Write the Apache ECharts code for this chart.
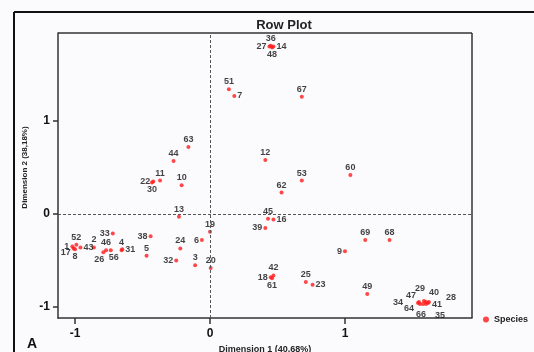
<!DOCTYPE html>
<html>
<head>
<meta charset="utf-8">
<script src="https://cdn.jsdelivr.net/npm/echarts@6/dist/echarts.min.js"></script>
<style>
  html, body { margin: 0; padding: 0; background: #fbfbfe; }
  #chart { width: 534px; height: 352px; }
</style>
</head>
<body>
<div id="chart"></div>
<script>
// species labels, coordinates on dimension 1 / dimension 2
const species = ["36","27","14","48","51","7","67","63","44","12","53","60","62",
  "22","30","11","10","13","19","6","33","38","24","2","52","1","17","8","43",
  "46","26","56","4","31","5","32","3","20","45","16","39","9","69","68",
  "42","18","61","25","23","49","29","40","47","41","34","64","66","28","35"];
const dim1 = [0.45,0.44,0.47,0.46,0.14,0.18,0.68,-0.16,-0.27,0.41,0.68,1.04,0.53,
  -0.42,-0.43,-0.37,-0.21,-0.23,0.0,-0.06,-0.72,-0.44,-0.22,-0.86,-0.99,-1.02,-1.01,-1.0,-0.96,
  -0.77,-0.79,-0.735,-0.655,-0.65,-0.47,-0.25,-0.11,0.005,0.43,0.47,0.41,1.0,1.15,1.33,
  0.47,0.45,0.46,0.71,0.76,1.165,1.585,1.6,1.548,1.615,1.541,1.556,1.578,1.622,1.6];
const dim2 = [1.81,1.8,1.8,1.79,1.34,1.27,1.26,0.72,0.57,0.58,0.36,0.42,0.23,
  0.35,0.34,0.36,0.31,-0.03,-0.19,-0.28,-0.21,-0.24,-0.37,-0.36,-0.33,-0.35,-0.37,-0.38,-0.36,
  -0.39,-0.41,-0.39,-0.39,-0.38,-0.45,-0.5,-0.55,-0.58,-0.05,-0.06,-0.15,-0.4,-0.28,-0.28,
  -0.66,-0.68,-0.69,-0.73,-0.76,-0.86,-0.935,-0.946,-0.946,-0.957,-0.957,-0.968,-0.968,-0.946,-0.968];
const xTicks = [-1, 0, 1];
const yTicks = [-1, 0, 1];

// where each label sits relative to its dot (layout only)
const labelSide = ["top","left","right","bottom","top","right","top","top","top","top","top","top","top",
  "left","bottom","top","top","top","top","left","left","left","top","top","top","left","left","bottom","right",
  "top","bottom","bottom","top","right","top","left","top","top","top","right","left","left","top","top",
  "top","left","bottom","top","right","top",
  "inside","inside","inside","inside","inside","inside","inside","inside","inside"];
const labelNudge = {
  "17": [0, 4], "26": [-4, 0], "56": [3, 0],
  "29": [-4, -12], "40": [8, -9], "47": [-8, -6], "28": [22, -4], "34": [-20, -1],
  "41": [9, 1], "64": [-11, 4], "66": [-2, 10], "35": [14, 11]
};

const chart = echarts.init(document.getElementById("chart"));
const font = "Liberation Sans, Arial, sans-serif";

const points = species.map((s, i) => ({
  name: s,
  value: [dim1[i], dim2[i]],
  label: { position: labelSide[i] }
}));

chart.setOption({
  backgroundColor: "#fbfbfe",
  animation: false,
  title: {
    text: "Row Plot",
    left: 279, top: 14, textAlign: "center",
    textStyle: { fontFamily: font, fontSize: 13, fontWeight: "bold", color: "#222" }
  },
  legend: {
    right: 1, top: 310,
    itemWidth: 6, itemHeight: 6, itemGap: 4,
    textStyle: { fontFamily: font, fontSize: 9, fontWeight: "bold", color: "#222" },
    data: [{ name: "Species", icon: "circle" }]
  },
  grid: { left: 58, top: 33, width: 414, height: 285, containLabel: false, outerBoundsMode: "none" },
  xAxis: {
    type: "value", min: -1.126, max: 1.941,
    name: "Dimension 1 (40,68%)", nameLocation: "middle", nameGap: 25,
    nameTextStyle: { fontFamily: font, fontSize: 9, fontWeight: "bold", color: "#222" },
    axisLine: { onZero: false, lineStyle: { color: "#333", width: 1.5 } },
    axisTick: { customValues: xTicks, length: 6, lineStyle: { color: "#333", width: 1.5 } },
    axisLabel: { customValues: xTicks, fontFamily: font, fontSize: 12, fontWeight: "bold", color: "#111", margin: 10 },
    splitLine: { show: false }
  },
  yAxis: {
    type: "value", min: -1.118, max: 1.946,
    name: "Dimension 2 (38,18%)", nameLocation: "middle", nameGap: 16, nameRotate: 90,
    nameTextStyle: { fontFamily: font, fontSize: 8, fontWeight: "bold", color: "#222", padding: [0, 0, 0, 16] },
    axisLine: { onZero: false, lineStyle: { color: "#333", width: 1.5 } },
    axisTick: { customValues: yTicks, length: 5, lineStyle: { color: "#333", width: 1.5 } },
    axisLabel: { customValues: yTicks, fontFamily: font, fontSize: 12, fontWeight: "bold", color: "#111", margin: 8 },
    splitLine: { show: false }
  },
  graphic: [
    { type: "line", shape: { x1: 14, y1: 12, x2: 534, y2: 12 }, style: { stroke: "#111", lineWidth: 2 } },
    { type: "line", shape: { x1: 14, y1: 12, x2: 14, y2: 352 }, style: { stroke: "#111", lineWidth: 2 } },
    { type: "line", shape: { x1: 58, y1: 33, x2: 472, y2: 33 }, style: { stroke: "#333", lineWidth: 1.5 } },
    { type: "line", shape: { x1: 472, y1: 33, x2: 472, y2: 318 }, style: { stroke: "#333", lineWidth: 1.5 } },
    { type: "text", left: 27, top: 337, style: { text: "A", font: "bold 14px " + font, fill: "#111" } }
  ],
  series: [{
    name: "Species",
    type: "scatter",
    symbolSize: 4,
    itemStyle: { color: "#ff1a1a" },
    label: {
      show: true, formatter: "{b}", distance: 1,
      fontFamily: font, fontSize: 9, fontWeight: "bold", color: "#111"
    },
    labelLayout: (params) => {
      const n = labelNudge[species[params.dataIndex]];
      return n ? { dx: n[0], dy: n[1], hideOverlap: false } : { hideOverlap: false };
    },
    data: points,
    markLine: {
      silent: true, symbol: "none", label: { show: false },
      lineStyle: { color: "#555", type: [3, 2], width: 1 },
      data: [{ xAxis: 0 }, { yAxis: 0 }]
    }
  }]
});
</script>
</body>
</html>
